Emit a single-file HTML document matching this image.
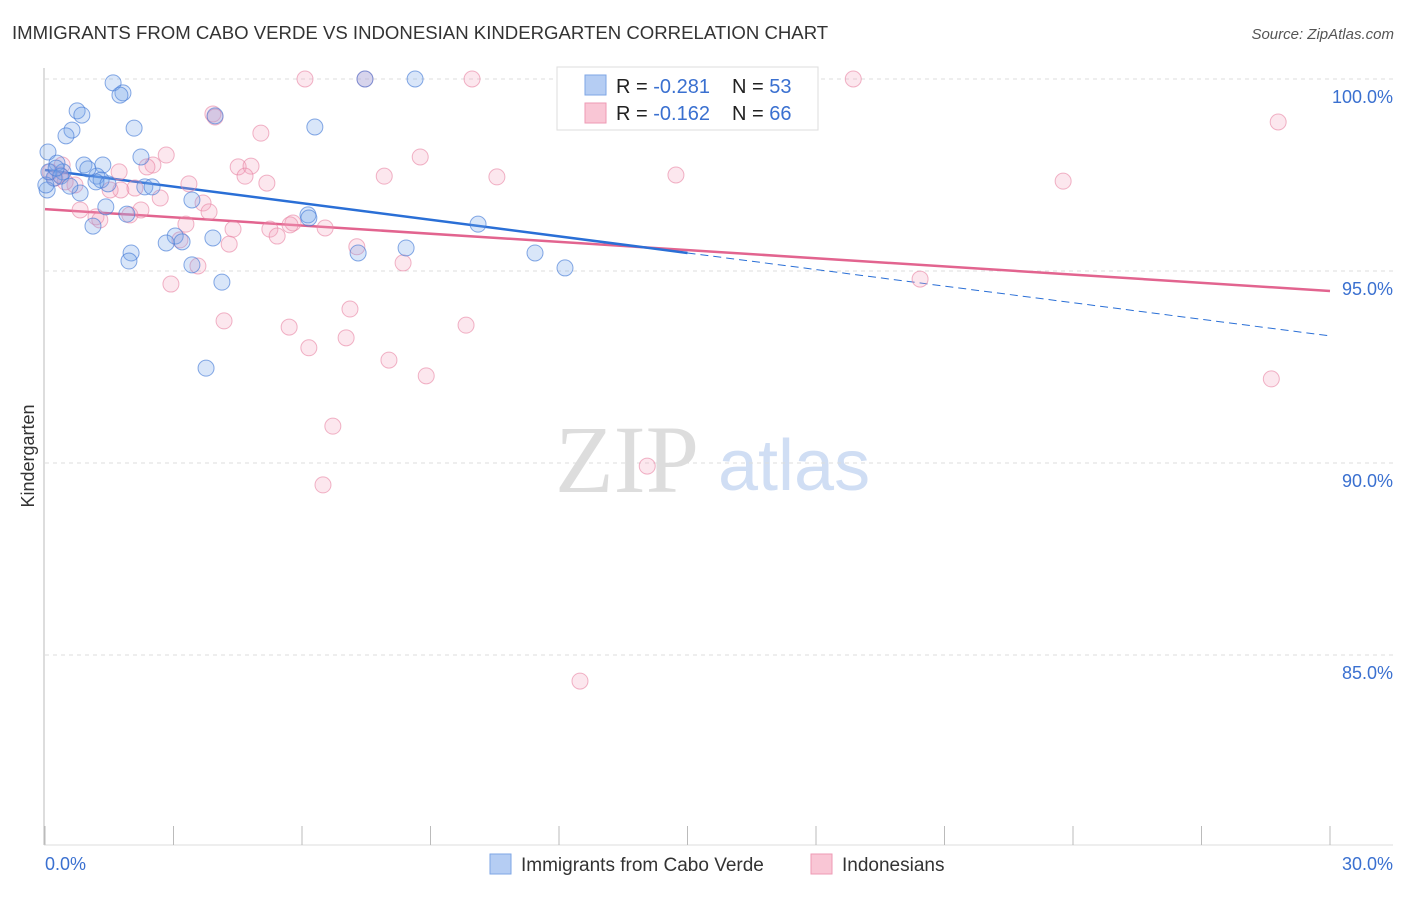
<!DOCTYPE html>
<html><head><meta charset="utf-8"><style>
body{margin:0;background:#fff;font-family:"Liberation Sans",sans-serif;}
svg text{font-family:"Liberation Sans",sans-serif;}
</style></head><body>
<svg width="1406" height="892" viewBox="0 0 1406 892" xmlns="http://www.w3.org/2000/svg">
<text x="12" y="39" font-size="18.6" fill="#333">IMMIGRANTS FROM CABO VERDE VS INDONESIAN KINDERGARTEN CORRELATION CHART</text>
<text x="1394" y="39" font-size="15" fill="#555" text-anchor="end" font-style="italic">Source: ZipAtlas.com</text>
<g>
<text x="555" y="492" font-size="96" fill="#ddd" style="font-family:'Liberation Serif',serif">ZIP</text>
<text x="718" y="490" font-size="72" fill="#d0def4">atlas</text>
</g>
<g id="grid"></g>
<g id="axes"></g>
<g id="trend"></g>
<g id="pts"></g>
<text transform="translate(34,456) rotate(-90)" font-size="18" fill="#333" text-anchor="middle">Kindergarten</text>
<g>
<rect x="557" y="67" width="261" height="63" fill="#fff" stroke="#ddd"/>
<rect x="585" y="75" width="21" height="20" fill="#b5cdf3" stroke="#7ea6e6"/>
<rect x="585" y="103" width="21" height="20" fill="#f9c6d5" stroke="#ee9ab4"/>
<text x="616" y="93" font-size="20" fill="#222">R = <tspan fill="#3a70d0">-0.281</tspan><tspan x="732">N = </tspan><tspan fill="#3a70d0">53</tspan></text>
<text x="616" y="120" font-size="20" fill="#222">R = <tspan fill="#3a70d0">-0.162</tspan><tspan x="732">N = </tspan><tspan fill="#3a70d0">66</tspan></text>
</g>
<g>
<rect x="490" y="854" width="21" height="20" fill="#b5cdf3" stroke="#7ea6e6"/>
<text x="521" y="871" font-size="19" fill="#333">Immigrants from Cabo Verde</text>
<rect x="811" y="854" width="21" height="20" fill="#f9c6d5" stroke="#ee9ab4"/>
<text x="842" y="871" font-size="19" fill="#333">Indonesians</text>
</g>
</svg>
<script>
const blueX=[1.59,1.82,1.75,8.64,7.47,0.75,0.86,0.63,0.49,2.08,3.97,6.30,0.07,2.24,0.28,0.91,1.35,0.42,1.21,1.31,0.21,0.05,0.82,2.33,2.50,1.19,0.02,1.42,1.91,1.12,3.43,6.14,10.11,3.04,2.83,3.20,3.92,2.01,1.96,3.43,4.13,8.43,7.31,11.44,12.14,3.76,6.16,0.09,0.37,1.00,1.47,0.58,0.26];
const blueY=[99.90,99.64,99.58,100,100,99.17,99.06,98.67,98.52,98.72,99.04,98.75,98.10,97.97,97.81,97.76,97.76,97.58,97.47,97.37,97.42,97.11,97.03,97.19,97.19,97.32,97.24,96.67,96.48,96.17,96.85,96.46,96.22,95.91,95.73,95.76,95.86,95.47,95.26,95.16,94.71,95.60,95.47,95.47,95.08,92.47,96.38,97.58,97.47,97.66,97.27,97.21,97.68];
const pinkX=[6.07,9.97,18.87,7.47,28.79,3.92,3.97,5.04,8.76,2.83,2.52,2.38,1.73,4.51,4.81,4.67,5.18,7.92,10.55,14.73,23.77,3.36,1.77,1.52,2.10,2.69,3.69,3.83,0.82,1.19,2.24,3.29,4.39,5.25,5.42,5.79,6.54,4.30,3.15,7.28,8.36,3.57,2.94,20.43,4.18,5.70,7.12,9.83,6.16,7.03,8.03,8.90,28.63,6.72,6.49,14.06,12.49,0.40,0.70,0.35,1.28,1.98,0.23,5.72,0.12,0.47];
const pinkY=[100,100,100,100,98.88,99.09,99.01,98.59,97.97,98.02,97.76,97.71,97.58,97.71,97.73,97.47,97.29,97.47,97.45,97.50,97.34,97.27,97.11,97.11,97.16,96.90,96.77,96.54,96.59,96.41,96.59,96.22,96.09,96.09,95.91,96.25,96.12,95.70,95.81,95.63,95.21,95.13,94.66,94.79,93.70,93.54,94.01,93.59,93.00,93.26,92.68,92.27,92.19,90.96,89.43,89.92,84.32,97.76,97.24,97.50,96.33,96.46,97.42,96.20,97.58,97.32];
const yTicks=[100,95,90,85];
const yTickLabels=["100.0%","95.0%","90.0%","85.0%"];
const xTicks=[0,3,6,9,12,15,18,21,24,27,30];
const blueTrend=[97.63,-0.144];
const pinkTrend=[96.61,-0.071];
const blueSolidEnd=15;

const NS="http://www.w3.org/2000/svg";
const X=v=>45+v*(1285/30);
const Y=v=>79+(100-v)*38.4;
function mk(tag,attrs,parent){const e=document.createElementNS(NS,tag);for(const k in attrs)e.setAttribute(k,attrs[k]);parent.appendChild(e);return e;}
const grid=document.getElementById('grid'),axes=document.getElementById('axes'),trend=document.getElementById('trend'),pts=document.getElementById('pts');
yTicks.forEach((t,i)=>{
 const l=mk('line',{x1:45,x2:1393,y1:Y(t),y2:Y(t),stroke:'#ddd','stroke-dasharray':'4,4'},grid);
 
 
 const tx=mk('text',{x:1393,y:Y(t)+24,'font-size':18,fill:'#3a70d0','text-anchor':'end'},grid);
 tx.textContent=yTickLabels[i];
 
 
});
const ya=mk('line',{x1:44,x2:44,y1:68,y2:845,stroke:'#bbb'},axes);


const xa=mk('line',{x1:44,x2:1393,y1:845,y2:845,stroke:'#ddd'},axes);


xTicks.forEach(t=>{
 const l=mk('line',{x1:X(t),x2:X(t),y1:826,y2:845,stroke:'#bbb'},axes);
 
 
});
const xl0=mk('text',{x:45,y:870,'font-size':18,fill:'#3a70d0'},axes);xl0.textContent=xTicks[0].toFixed(1)+"%";


const xl1=mk('text',{x:1393,y:870,'font-size':18,fill:'#3a70d0','text-anchor':'end'},axes);xl1.textContent=xTicks[xTicks.length-1].toFixed(1)+"%";



function drawPts(xs,ys,fill,stroke,name){xs.forEach((x,i)=>{
 const c=mk('circle',{cx:X(x),cy:Y(ys[i]),r:8,fill:fill,stroke:stroke,'stroke-width':1},pts);
 
 
});}
drawPts(pinkX,pinkY,'rgba(245,160,188,0.25)','rgba(232,130,162,0.6)','indonesians-point');
drawPts(blueX,blueY,'rgba(120,165,235,0.28)','rgba(70,125,215,0.65)','cabo-verde-point');

const pl=mk('line',{x1:X(0),y1:Y(pinkTrend[0]),x2:X(30),y2:Y(pinkTrend[0]+pinkTrend[1]*30),stroke:'#e2648f','stroke-width':2.5},trend);


const bl=mk('line',{x1:X(0),y1:Y(blueTrend[0]),x2:X(blueSolidEnd),y2:Y(blueTrend[0]+blueTrend[1]*blueSolidEnd),stroke:'#2a6fd6','stroke-width':2.5},trend);


const bd=mk('line',{x1:X(blueSolidEnd),y1:Y(blueTrend[0]+blueTrend[1]*blueSolidEnd),x2:X(30),y2:Y(blueTrend[0]+blueTrend[1]*30),stroke:'#2a6fd6','stroke-width':1,'stroke-dasharray':'8,5'},trend);


</script>
</body></html>
